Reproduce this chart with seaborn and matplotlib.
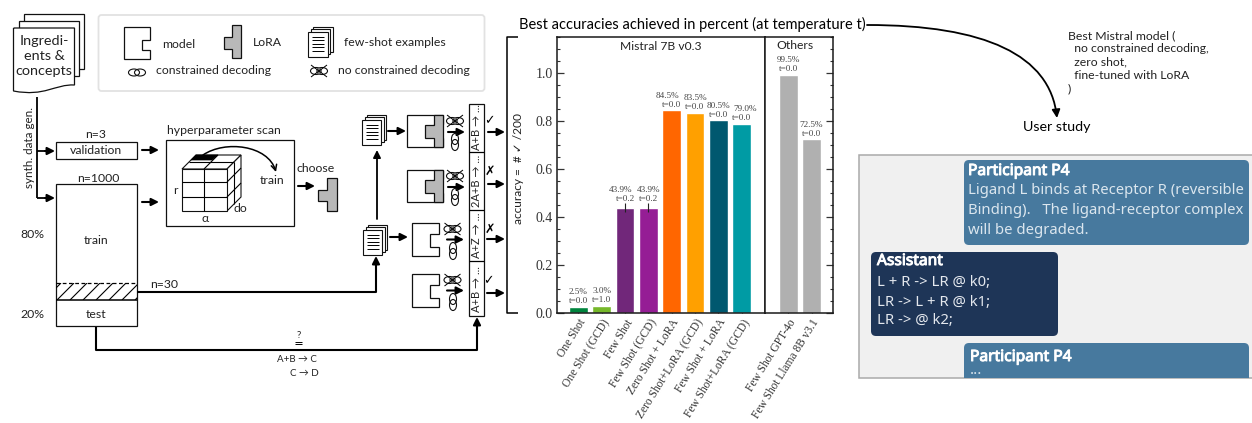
import matplotlib
matplotlib.use("Agg")
import matplotlib.pyplot as plt
import matplotlib.patheffects as pe
import seaborn as sns
from matplotlib.patches import Rectangle, Polygon, Ellipse, FancyBboxPatch, PathPatch, FancyArrowPatch
from matplotlib.path import Path
from matplotlib.ticker import MultipleLocator

# accuracy data
mistral_names = ["One Shot", "One Shot (GCD)", "Few Shot", "Few Shot (GCD)", "Zero Shot + LoRA",
                 "Zero Shot+LoRA (GCD)", "Few Shot + LoRA", "Few Shot+LoRA (GCD)"]
mistral_acc = [0.025, 0.03, 0.439, 0.439, 0.845, 0.835, 0.805, 0.79]
mistral_temp = ["t=0.0", "t=1.0", "t=0.2", "t=0.2", "t=0.0", "t=0.0", "t=0.0", "t=0.0"]
mistral_err = [0, 0, 0.02, 0.02, 0, 0, 0, 0]
mistral_colors = ["#00843d", "#76b82a", "#71277a", "#951d95", "#ff6600", "#ffa000", "#00586f", "#009ba4"]
other_names = ["Few Shot GPT-4o", "Few Shot Llama 8B v3.1"]
other_acc = [0.995, 0.725]
other_temp = ["t=0.0", "t=0.0"]
other_colors = ["#b0b0b0", "#b0b0b0"]
y_ticks = [0.0, 0.2, 0.4, 0.6, 0.8, 1.0]

W, H = 1252, 423
sns.set_theme(style="white")
plt.rcParams["font.family"] = ["Lato", "DejaVu Sans"]
SERIF = ["Liberation Serif", "DejaVu Serif"]
DARK = "#1a1a1a"
FS = 8.8

fig = plt.figure(figsize=(W / 100, H / 100), dpi=100, facecolor="white")
bg = fig.add_axes([0, 0, 1, 1])
bg.set_xlim(0, W)
bg.set_ylim(H, 0)
bg.axis("off")


def px_axes(x0, y0, x1, y1):
    return fig.add_axes([x0 / W, 1 - y1 / H, (x1 - x0) / W, (y1 - y0) / H])


def txt(x, y, s, size=FS, ha="center", va="center", **kw):
    return bg.text(x, y, s, fontsize=size, ha=ha, va=va, color=kw.pop("color", "#222222"), **kw)


def line(xs, ys, lw=1.3, **kw):
    return bg.plot(xs, ys, color=kw.pop("color", "black"), lw=lw, solid_capstyle="butt", **kw)


def arrow(x0, y0, x1, y1, lw=1.5, ms=11):
    bg.add_patch(FancyArrowPatch((x0, y0), (x1, y1), arrowstyle="-|>", mutation_scale=ms, lw=lw,
                                 color="black", shrinkA=0, shrinkB=0))


def box(x0, y0, x1, y1, fc="white", ec="#111111", lw=0.9, **kw):
    return bg.add_patch(Rectangle((x0, y0), x1 - x0, y1 - y0, fc=fc, ec=ec, lw=lw, **kw))


def model(x0, y0, x1, y1, nx, n0, n1, lw=0.9):
    pts = [(x0, y0), (x1, y0), (x1, n0), (nx, n0), (nx, n1), (x1, n1), (x1, y1), (x0, y1)]
    bg.add_patch(Polygon(pts, closed=True, fc="white", ec="#111111", lw=lw))


def lora(x0, xm, x1, y0, y1, n0, n1, lw=0.9):
    pts = [(xm, y0), (x1, y0), (x1, y1), (xm, y1), (xm, n1), (x0, n1), (x0, n0), (xm, n0)]
    bg.add_patch(Polygon(pts, closed=True, fc="#b8b8b8", ec="#111111", lw=lw))


def docs(x, y, w=19, h=25):
    # x, y = top left of the front page
    for d in (5, 2.5):
        box(x + d, y - d, x + w + d, y + h - d, lw=0.8)
    box(x, y, x + w, y + h, lw=0.8)
    for i in range(5):
        yy = y + 5 + i * 3.4
        line([x + 3.5, x + w - 3.5], [yy, yy], lw=0.7)


def chain(cx, cy, vertical=False):
    dx, dy = (0, 3) if vertical else (3, 0)
    w, h = (7, 11) if vertical else (11, 7)
    for s in (-1, 1):
        bg.add_patch(Ellipse((cx + s * dx, cy + s * dy), w, h, fc="none", ec="#111111", lw=0.8))


def nochain(cx, cy):
    chain(cx, cy)
    bg.add_patch(Ellipse((cx, cy), 6, 6, fc="#777777", ec="none"))
    line([cx - 8, cx + 8], [cy - 6, cy + 6], lw=0.7)
    line([cx - 8, cx + 8], [cy + 6, cy - 6], lw=0.7)


# --- bar panels ---
ax1 = px_axes(556.7, 37, 765, 312.7)
ax2 = px_axes(765, 37, 833, 312.7)
sns.barplot(x=mistral_names, y=mistral_acc, hue=mistral_names, palette=mistral_colors, width=0.81,
            saturation=1, legend=False, ax=ax1)
sns.barplot(x=other_names, y=other_acc, hue=other_names, palette=other_colors, width=0.81,
            saturation=1, legend=False, ax=ax2)
ax1.set_xlim(-0.93, 8.0)
ax2.set_xlim(-1.0, 1.92)

ax1.errorbar(range(len(mistral_names)), mistral_acc, yerr=mistral_err, fmt="none", ecolor="#222222", elinewidth=0.8)


def bar_labels(ax, vals, temps, errs, nudges):
    for i, (v, t) in enumerate(zip(vals, temps)):
        offset = 0.02 if errs[i] else 0.006
        ax.text(i + nudges[i], v + offset + 0.038, f"{v * 100:.1f}%", fontsize=6.6, family=SERIF, color="#444444",
                ha="center", va="bottom")
        ax.text(i, v + offset, t, fontsize=6.6, family=SERIF, color="#444444", ha="center", va="bottom")


bar_labels(ax1, mistral_acc, mistral_temp, mistral_err, [0, 0, -0.17, 0, -0.2, 0, 0, 0.17])
bar_labels(ax2, other_acc, other_temp, [0, 0], [0, 0])

for ax, names in ((ax1, mistral_names), (ax2, other_names)):
    ax.set_ylim(0, 1.152)
    ax.set_xticks(range(len(names)))
    ax.set_xticklabels(names, rotation=58, ha="right", rotation_mode="anchor", fontsize=8.3,
                       family=SERIF, color="#333333")
    ax.set_yticks(y_ticks)
    ax.set_yticklabels([f"{v:.1f}" for v in y_ticks], fontsize=10, family=SERIF, color="#333333")
    ax.yaxis.set_minor_locator(MultipleLocator(0.05))
    ax.tick_params(axis="x", direction="in", length=4, width=0.8, color=DARK, pad=3, bottom=True)
    ax.tick_params(axis="y", which="major", direction="in", length=5, width=0.9, color="#333333", pad=3)
    ax.tick_params(axis="y", which="minor", direction="in", length=2.5, width=0.8, color="#333333")
    for sp in ax.spines.values():
        sp.set_color(DARK)
        sp.set_linewidth(1.1)
    ax.set_xlabel("")
    ax.set_ylabel("")
ax1.tick_params(axis="y", which="both", left=True, right=False)
ax2.tick_params(axis="y", which="both", left=False, right=True, labelleft=False)
ax1.text(0.5, 0.965, "Mistral 7B v0.3", transform=ax1.transAxes, fontsize=8.7, ha="center", va="center", color="#222222")
ax2.text(0.44, 0.97, "Others", transform=ax2.transAxes, fontsize=8.7, ha="center", va="center", color="#222222")

# bracket + y label
line([518, 506.5, 506.5, 518], [37, 37, 313, 313], lw=1.1)
txt(518, 169, "accuracy =  # ✓ /200", size=8.6, rotation=90)

# --- right hand side ---
txt(692.5, 24, "Best accuracies achieved in percent (at temperature t)", size=10.55, color="black")
bg.add_patch(FancyArrowPatch(path=Path([(867, 25), (985, 25), (1050, 55), (1057, 118)],
                                       [Path.MOVETO, Path.CURVE4, Path.CURVE4, Path.CURVE4]),
                             arrowstyle="-|>", mutation_scale=12, lw=1.3, color="black", shrinkA=0, shrinkB=0))
txt(1057, 127, "User study", size=10.3, color="black")
notes = ["Best Mistral model (", "  no constrained decoding,", "  zero shot,", "  fine-tuned with LoRA", ")"]
for i, s in enumerate(notes):
    txt(1068, 35.5 + i * 13.4, s, size=8.8, ha="left", color="#222222")

# chat panel
box(858.5, 155, 1262, 378, fc="#f0f0f0", ec="#aaaaaa", lw=1.1)
clip = Rectangle((858, 155), 394, 223, transform=bg.transData)


def bubble(x0, y0, x1, y1, col):
    p = FancyBboxPatch((x0 + 4, y0 + 4), x1 - x0 - 8, y1 - y0 - 8, boxstyle="round,pad=4,rounding_size=5",
                       fc=col, ec="none")
    bg.add_patch(p)
    p.set_clip_path(clip)


def bold(x, y, s):
    t = txt(x, y, s, size=11.2, ha="left", family=CHAT, color="white")
    t.set_path_effects([pe.withStroke(linewidth=0.7, foreground="white")])


BLUE, NAVY = "#47799e", "#1e3557"
bubble(964, 160, 1249, 245, BLUE)
bubble(871, 252, 1058, 336, NAVY)
bubble(964, 343, 1249, 395, BLUE)
CHAT = "Noto Sans"
LIGHT = "#dbe6ee"
bold(968, 171, "Participant P4")
for y, s in zip((191, 211, 231), ("Ligand L binds at Receptor R (reversible", "Binding).   The ligand-receptor complex", "will be degraded.")):
    txt(967.5, y, s, size=10.7, ha="left", family=CHAT, color=LIGHT)
bold(877, 261, "Assistant")
for y, s in zip((282, 302, 321), ("L + R -> LR @ k0;", "LR -> L + R @ k1;", "LR -> @ k2;")):
    txt(877, y, s, size=10.7, ha="left", family=CHAT, color="#e4e8ee")
bold(970, 357, "Participant P4")
txt(970, 371, "...", size=10.7, ha="left", family=CHAT, color=LIGHT)

# --- workflow diagram ---
# legend box
bg.add_patch(FancyBboxPatch((100, 16.5), 383, 73, boxstyle="round,pad=1.5,rounding_size=3", fc="white", ec="#e2e2e2", lw=1.3))
model(124, 27, 150, 59, 142, 40, 50)
lora(223.5, 232, 241, 25.5, 58, 37, 49)
docs(308, 32, 19.5, 25)
chain(137, 72.5)
nochain(319, 71)
txt(162, 44, "model", ha="left")
txt(253, 43, "LoRA", ha="left")
txt(344, 42, "few-shot examples", ha="left")
txt(156, 71, "constrained decoding", ha="left")
txt(338.5, 70, "no constrained decoding", ha="left")

# ingredients stack
box(23.5, 14.5, 84, 69)
box(18.5, 21, 79, 76)
front = Path([(13.5, 28), (74.5, 28), (74.5, 85), (55, 84), (45, 97), (13.5, 91), (13.5, 28)],
             [Path.MOVETO, Path.LINETO, Path.LINETO, Path.CURVE4, Path.CURVE4, Path.CURVE4, Path.LINETO])
bg.add_patch(PathPatch(front, fc="white", ec="#111111", lw=0.9))
for y, s in zip((41, 56, 71), ("Ingredi-", "ents &", "concepts")):
    txt(44, y, s, size=10.4)

line([37, 37], [97, 198], lw=1.3)
line([37, 50], [151, 151], lw=1.3)
line([37, 50], [198, 198], lw=1.3)
arrow(45, 151, 55, 151)
arrow(45, 198, 55, 198)
txt(29.5, 148, "synth. data gen.", size=8.4, rotation=90)

txt(96, 134, "n=3")
box(55.5, 142, 136.5, 159)
txt(96, 150.5, "validation")
arrow(142, 150, 159, 150)
txt(98, 178, "n=1000")
box(55.5, 184.5, 136.5, 326.5)
hatch_clip = Rectangle((55.5, 283), 81, 17, transform=bg.transData)
for x0 in range(44, 137, 13):
    for ln in line([x0, x0 + 17], [300, 283], lw=0.8):
        ln.set_clip_path(hatch_clip)
line([55.5, 136.5], [283, 283], lw=0.9, ls=(0, (3, 2)))
line([55.5, 136.5], [300, 300], lw=1.1)
txt(96, 240, "train")
txt(96, 315, "test")
txt(32, 235, "80%")
txt(32, 315, "20%")
arrow(142, 202, 159, 202)

# hyperparameter scan
txt(224, 130, "hyperparameter scan")
box(166, 140, 294, 226)
bg.add_patch(Polygon([(182, 169), (227, 169), (241, 155), (196, 155)], closed=True, fc="white", ec="#111111", lw=0.8))
bg.add_patch(Polygon([(227, 169), (241, 155), (241, 197), (227, 211)], closed=True, fc="white", ec="#111111", lw=0.8))
box(182, 169, 227, 211, lw=0.8)
line([204, 204], [169, 211], lw=0.8)
line([182, 227], [182, 182], lw=0.8)
line([182, 227], [197, 197], lw=0.8)
line([227, 241], [182, 168], lw=0.8)
line([227, 241], [197, 183], lw=0.8)
line([234, 234], [162, 204], lw=0.8)
line([189, 234], [162, 162], lw=0.8)
line([204, 218], [169, 155], lw=0.8)
bg.add_patch(Polygon([(196, 155), (218, 155), (212, 160), (191, 160)], closed=True, fc="black", ec="black", lw=0.5))
bg.add_patch(FancyArrowPatch(path=Path([(203, 155), (225, 140), (268, 145), (276, 172)],
                                       [Path.MOVETO, Path.CURVE4, Path.CURVE4, Path.CURVE4]),
                             arrowstyle="->", mutation_scale=10, lw=1.1, color="black", shrinkA=0, shrinkB=0))
txt(272, 181, "train")
txt(175, 190, "r")
txt(205, 218, "α")
txt(240, 209, "do")
txt(316, 169, "choose")
arrow(298, 186, 315, 186)
lora(318, 327, 337, 178, 211, 190, 201)

# lower paths
line([137, 376, 376], [292, 292, 262], lw=1.5)
arrow(376, 266, 376, 256)
arrow(377, 219, 377, 150, lw=1.3)
line([96, 96, 477, 477], [327, 350.5, 350.5, 325], lw=1.5)
arrow(477, 328, 477, 317)
txt(164, 284, "n=30")
txt(298.5, 335, "?", size=7)
line([295, 302], [342, 342], lw=0.7)
line([295, 302], [344.5, 344.5], lw=0.7)
txt(297, 359.5, "A+B → C", size=7)
txt(304, 373.5, "C → D", size=7)

# LoRA-tuned models
docs(362, 120, 19, 25)
arrow(388, 131, 406, 131)
for top in (115, 170):
    model(407, top, 443, top + 32.5, 434, top + 9, top + 23)
    lora(425, 434, 443, top, top + 32.5, top + 10, top + 23)
    nochain(455, top + 6)
    arrow(448, top + 17, 465, top + 17)
    chain(455, top + 27, vertical=True)

# plain models
docs(363, 230, 19, 25)
arrow(390, 237, 408, 237)
for top in (223, 274):
    model(412, top, 439, top + 33.5, 430, top + 11, top + 24)
    nochain(452.5, top + 6)
    arrow(447, top + 16.5, 464, top + 16.5)
    chain(453, top + 28, vertical=True)

# output strip
box(468.5, 104, 484, 316)
for y in (152, 210, 261):
    line([468.5, 484], [y, y], lw=0.9)
for y, s in zip((127, 181, 235, 289), ("A+B → ...", "2A+B → ...", "A+Z → ...", "A+B → ...")):
    txt(476.5, y, s, size=8, rotation=90)
for x, y, s in ((489, 121, "✓"), (490, 171, "✗"), (490, 229, "✗"), (488, 281, "✓")):
    txt(x, y, s, size=9, family="DejaVu Sans", color="black")
for x, y in ((488, 132), (488, 184), (487, 239), (487, 293)):
    arrow(x, y, 505, y)

fig.savefig("out.png", dpi=100)
